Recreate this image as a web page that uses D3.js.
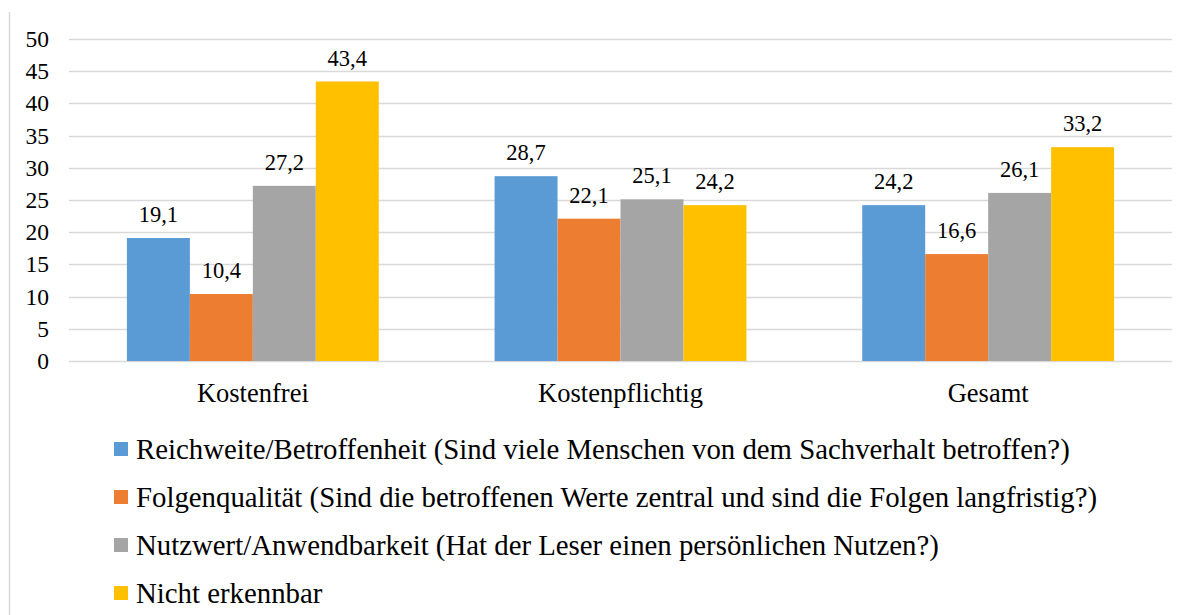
<!DOCTYPE html>
<html>
<head>
<meta charset="utf-8">
<script src="https://cdn.jsdelivr.net/npm/d3@7"></script>
</head>
<body style="margin:0; background:#fff">
<div id="chart"></div>
<script>
var categories = ["Kostenfrei", "Kostenpflichtig", "Gesamt"];
var seriesNames = [
  "Reichweite/Betroffenheit (Sind viele Menschen von dem Sachverhalt betroffen?)",
  "Folgenqualität (Sind die betroffenen Werte zentral und sind die Folgen langfristig?)",
  "Nutzwert/Anwendbarkeit (Hat der Leser einen persönlichen Nutzen?)",
  "Nicht erkennbar"
];
var reichweite = [19.1, 28.7, 24.2];
var folgen = [10.4, 22.1, 16.6];
var nutzwert = [27.2, 25.1, 26.1];
var nicht = [43.4, 24.2, 33.2];
var yTicks = [0, 5, 10, 15, 20, 25, 30, 35, 40, 45, 50];
var colors = ["#5b9bd5", "#ed7d31", "#a5a5a5", "#ffc000"];

var series = [reichweite, folgen, nutzwert, nicht];
var serif = "Liberation Serif";

var width = 1188, height = 615;
var svg = d3.select("#chart").append("svg")
  .attr("width", width)
  .attr("height", height);

// outer frame line on the left
svg.append("line")
  .attr("x1", 9.5).attr("x2", 9.5)
  .attr("y1", 12).attr("y2", height)
  .attr("stroke", "#d9d9d9").attr("stroke-width", 1.5);

var x0 = d3.scaleBand()
  .domain(categories)
  .range([69, 1172])
  .paddingInner(0.315)
  .paddingOuter(0.1575);

var x1 = d3.scaleBand()
  .domain(d3.range(series.length))
  .range([0, x0.bandwidth()]);

var y = d3.scaleLinear()
  .domain([0, 50])
  .range([361, 39]);

// gridlines
svg.append("g")
  .selectAll("line")
  .data(yTicks)
  .join("line")
    .attr("x1", 69).attr("x2", 1172)
    .attr("y1", function(d) { return Math.round(y(d)) + 0.5; })
    .attr("y2", function(d) { return Math.round(y(d)) + 0.5; })
    .attr("stroke", "#d9d9d9")
    .attr("stroke-width", 1.5);

// y axis labels
var axis_y = svg.append("g")
  .attr("transform", "translate(49,0)")
  .call(d3.axisLeft(y).tickValues(yTicks).tickSize(0).tickPadding(0))
  .attr("font-family", serif);
axis_y.select(".domain").remove();
axis_y.selectAll(".tick text")
  .attr("font-size", 23.5)
  .attr("font-family", serif)
  .attr("fill", "black");

// x axis labels
var axis_x = svg.append("g")
  .attr("transform", "translate(0,361)")
  .call(d3.axisBottom(x0).tickSize(0).tickPadding(22))
  .attr("font-family", serif);
axis_x.select(".domain").remove();
axis_x.selectAll(".tick text")
  .attr("font-size", 26.5)
  .attr("font-family", serif)
  .attr("fill", "black");

// bars
series.forEach(function(vals, s) {
  var g = svg.append("g");
  g.selectAll("rect")
    .data(vals)
    .join("rect")
      .attr("x", function(d, i) { return x0(categories[i]) + x1(s); })
      .attr("y", function(d) { return y(d); })
      .attr("width", x1.bandwidth())
      .attr("height", function(d) { return y(0) - y(d); })
      .attr("fill", colors[s]);
  g.selectAll("text")
    .data(vals)
    .join("text")
      .attr("x", function(d, i) { return x0(categories[i]) + x1(s) + x1.bandwidth() / 2; })
      .attr("y", function(d) { return y(d) - 16; })
      .attr("text-anchor", "middle")
      .attr("font-size", 22.5)
      .attr("font-family", serif)
      .text(function(d) { return String(d).replace(".", ","); });
});

// legend
var legend = svg.append("g")
  .selectAll("g")
  .data(seriesNames)
  .join("g")
    .attr("transform", function(d, i) { return "translate(114," + (449 + i * 48) + ")"; });
legend.append("rect")
  .attr("x", 0).attr("y", -7)
  .attr("width", 14).attr("height", 14)
  .attr("fill", function(d, i) { return colors[i]; });
legend.append("text")
  .attr("x", 22).attr("y", 9.5)
  .attr("font-size", 28.8)
  .attr("font-family", serif)
  .text(function(d) { return d; });
</script>
</body>
</html>
